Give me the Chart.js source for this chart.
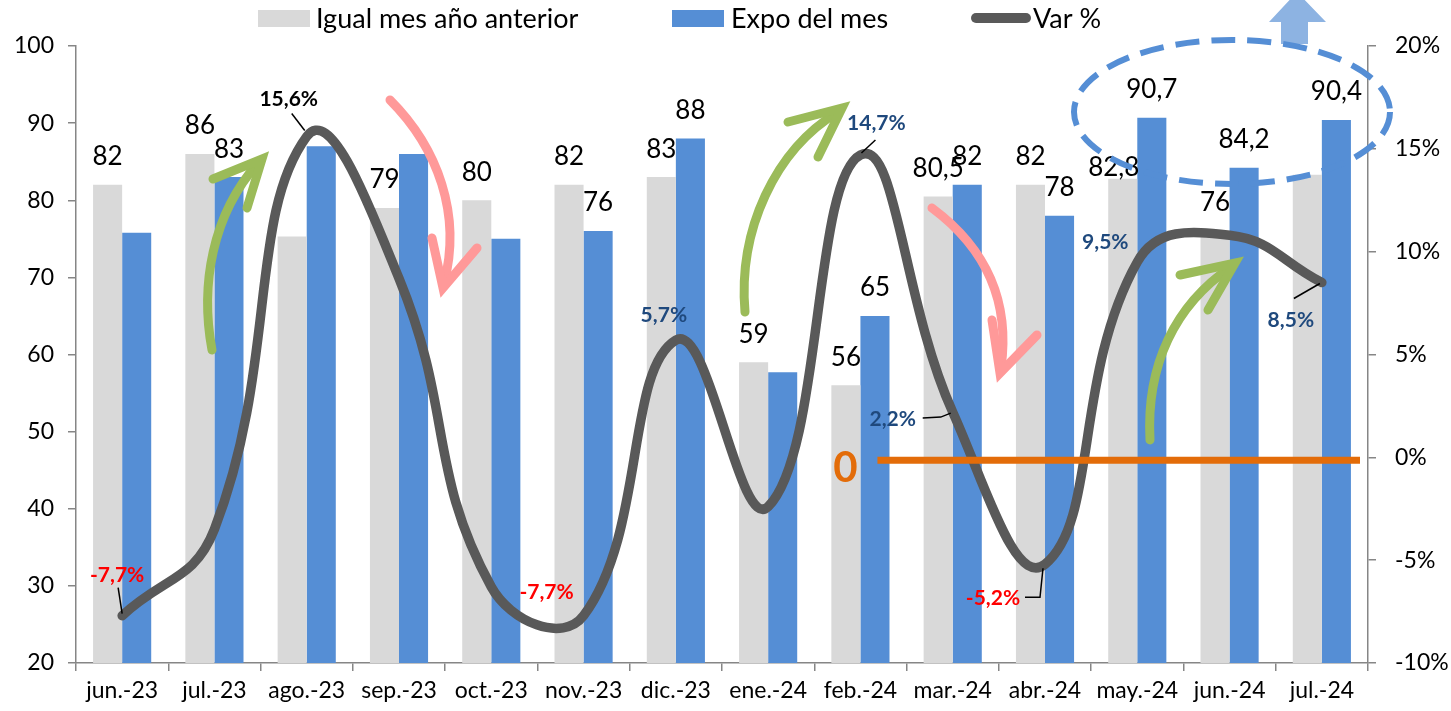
<!DOCTYPE html>
<html>
<head>
<meta charset="utf-8">
<script src="https://cdn.jsdelivr.net/npm/chart.js@4.4.1/dist/chart.umd.min.js"></script>
<style>
  html, body { margin: 0; padding: 0; background: #fff; }
  #wrap { width: 1451px; height: 711px; }
</style>
</head>
<body>
<div id="wrap"><canvas id="chart" width="1451" height="711"></canvas></div>
<script>
// data
const months = ["jun.-23", "jul.-23", "ago.-23", "sep.-23", "oct.-23", "nov.-23", "dic.-23",
                "ene.-24", "feb.-24", "mar.-24", "abr.-24", "may.-24", "jun.-24", "jul.-24"];
const prevYear  = [82, 86, 75.3, 79, 80, 82, 83, 59, 56, 80.5, 82, 82.8, 76, 83.3];
const currMonth = [75.8, 83, 87, 86, 75, 76, 88, 57.7, 65, 82, 78, 90.7, 84.2, 90.4];
const varPct    = [-7.7, -3.5, 15.6, 8.7, -6.3, -7.7, 5.7, -2.4, 14.7, 2.2, -5.2, 9.5, 10.8, 8.5];

// which points carry a value label
const prevLabelIdx = [0, 1, 3, 4, 5, 6, 7, 8, 9, 10, 11, 12];
const currLabelIdx = [1, 5, 6, 8, 9, 10, 11, 12, 13];
const varLabelIdx  = [0, 2, 5, 6, 8, 9, 10, 11, 13];

const legendNames = ["Igual mes año anterior", "Expo del mes", "Var %"];

const GREY = "#D9D9D9", BLUE = "#558ED5", LINE = "#595959";
const FONT = "Lato";

const fmt = v => Number.isInteger(v) ? String(v) : v.toFixed(1).replace(".", ",");
const fmtPct = v => fmt(v) + "%";

// label placement tweaks (offsets in px)
const prevLabelShift = { 11: [-9, 11] };
const varLabelPos = {
  0:  { d: [-5, -40], c: "#FF0000", lead: [[-4, -28], [0, -2]] },
  2:  { d: [-18, -37], c: "#000000", lead: [[-15, -23], [-2, -6]] },
  5:  { d: [-37, -23], c: "#FF0000" },
  6:  { d: [-12, -25], c: "#1F497D" },
  8:  { d: [16, -32], c: "#1F497D", lead: [[15, -15], [1, -2]] },
  9:  { d: [-60, 7], c: "#1F497D", lead: [[-30, 6], [-12, 5], [-2, 1]] },
  10: { d: [-52, 34], c: "#FF0000", lead: [[-20, 33], [-5, 33], [-2, 4]] },
  11: { d: [-32, -20], c: "#1F497D" },
  13: { d: [-31, 38], c: "#1F497D", lead: [[-28, 16], [-2, 1]] }
};

function arrow(ctx, color, p0, c1, c2, p1, barbA, tip, barbB) {
  ctx.save();
  ctx.strokeStyle = color;
  ctx.lineWidth = 9;
  ctx.lineCap = "round";
  ctx.lineJoin = "miter";
  ctx.beginPath();
  ctx.moveTo(p0[0], p0[1]);
  ctx.bezierCurveTo(c1[0], c1[1], c2[0], c2[1], p1[0], p1[1]);
  ctx.stroke();
  ctx.beginPath();
  ctx.moveTo(barbA[0], barbA[1]);
  ctx.lineTo(tip[0], tip[1]);
  ctx.lineTo(barbB[0], barbB[1]);
  ctx.stroke();
  ctx.restore();
}

const decorations = {
  id: "decorations",
  afterDatasetsDraw(chart) {
    const ctx = chart.ctx;
    const x = chart.scales.x, y1 = chart.scales.y1;
    const area = chart.chartArea;

    // zero reference line
    const zy = y1.getPixelForValue(0) + 3;
    ctx.save();
    ctx.strokeStyle = "#E36C09";
    ctx.lineWidth = 7;
    ctx.beginPath();
    ctx.moveTo(x.getPixelForValue(8) + 17, zy);
    ctx.lineTo(area.right - 8, zy);
    ctx.stroke();
    ctx.fillStyle = "#E36C09";
    ctx.font = "bold 42px " + FONT;
    ctx.textAlign = "center";
    ctx.textBaseline = "middle";
    ctx.fillText("0", x.getPixelForValue(8) - 15, zy + 8);
    ctx.restore();

    // green / pink trend arrows
    arrow(ctx, "#9BBB59", [212, 350], [200, 285], [212, 215], [258, 163], [213, 179], [262, 159], [247, 208]);
    arrow(ctx, "#9BBB59", [745, 312], [738, 230], [775, 150], [838, 112], [788, 122], [842, 108], [818, 157]);
    arrow(ctx, "#9BBB59", [1150, 440], [1146, 365], [1175, 305], [1231, 267], [1180, 275], [1235, 263], [1208, 310]);
    arrow(ctx, "#FF9999", [390, 100], [438, 148], [462, 215], [444, 283], [432, 238], [443, 288], [477, 248]);
    arrow(ctx, "#FF9999", [932, 208], [975, 240], [1012, 290], [1001, 368], [992, 320], [1000, 373], [1037, 335]);

    // value labels on bars
    ctx.save();
    ctx.fillStyle = "#000";
    ctx.font = "26px " + FONT;
    ctx.textAlign = "center";
    ctx.textBaseline = "middle";
    const m0 = chart.getDatasetMeta(0), m1 = chart.getDatasetMeta(1), m2 = chart.getDatasetMeta(2);
    prevLabelIdx.forEach(i => {
      const b = m0.data[i], s = prevLabelShift[i] || [0, 28];
      ctx.fillText(fmt(prevYear[i]), b.x + s[0], b.y - s[1]);
    });
    currLabelIdx.forEach(i => {
      const b = m1.data[i];
      ctx.fillText(fmt(currMonth[i]), b.x, b.y - 28);
    });
    ctx.restore();

    // percent labels on the line
    ctx.save();
    ctx.font = "bold 21px " + FONT;
    ctx.textAlign = "center";
    ctx.textBaseline = "middle";
    varLabelIdx.forEach(i => {
      const p = m2.data[i], o = varLabelPos[i];
      if (o.lead) {
        ctx.strokeStyle = "#000";
        ctx.lineWidth = 1.5;
        ctx.beginPath();
        o.lead.forEach((q, k) => k ? ctx.lineTo(p.x + q[0], p.y + q[1]) : ctx.moveTo(p.x + q[0], p.y + q[1]));
        ctx.stroke();
      }
      ctx.fillStyle = o.c;
      ctx.fillText(fmtPct(varPct[i]), p.x + o.d[0], p.y + o.d[1]);
    });
    ctx.restore();

    // up arrow + dashed ellipse
    ctx.save();
    ctx.fillStyle = "#8DB3E2";
    ctx.beginPath();
    ctx.moveTo(1281, 44); ctx.lineTo(1281, 22); ctx.lineTo(1269, 22);
    ctx.lineTo(1297, -8); ctx.lineTo(1326, 22); ctx.lineTo(1308, 22);
    ctx.lineTo(1308, 44); ctx.closePath();
    ctx.fill();
    ctx.strokeStyle = BLUE;
    ctx.lineWidth = 6;
    ctx.setLineDash([24, 12]);
    ctx.beginPath();
    ctx.ellipse(1232, 112, 158, 72, 0, 0, Math.PI * 2);
    ctx.stroke();
    ctx.restore();

    // legend
    ctx.save();
    ctx.font = "27px " + FONT;
    ctx.textBaseline = "middle";
    ctx.textAlign = "left";
    ctx.fillStyle = GREY; ctx.fillRect(258, 10, 52, 17);
    ctx.fillStyle = BLUE; ctx.fillRect(672, 10, 52, 17);
    ctx.strokeStyle = LINE; ctx.lineWidth = 10; ctx.lineCap = "round";
    ctx.beginPath(); ctx.moveTo(976, 18); ctx.lineTo(1026, 18); ctx.stroke();
    ctx.fillStyle = "#000";
    ctx.fillText(legendNames[0], 316, 19);
    ctx.fillText(legendNames[1], 731, 19);
    ctx.fillText(legendNames[2], 1033, 19);
    ctx.restore();
  }
};

const axisColor = "#868686";

new Chart(document.getElementById("chart"), {
  type: "bar",
  data: {
    labels: months,
    datasets: [
      { label: legendNames[0], data: prevYear, backgroundColor: GREY, yAxisID: "y", order: 2,
        categoryPercentage: 0.63, barPercentage: 1.0 },
      { label: legendNames[1], data: currMonth, backgroundColor: BLUE, yAxisID: "y", order: 2,
        categoryPercentage: 0.63, barPercentage: 1.0 },
      { type: "line", label: legendNames[2], data: varPct, yAxisID: "y1", order: 0,
        borderColor: LINE, borderWidth: 9.5, tension: 0.45, pointRadius: 0,
        borderCapStyle: "round", borderJoinStyle: "round", fill: false }
    ]
  },
  options: {
    responsive: false,
    animation: false,
    devicePixelRatio: 1,
    layout: { padding: { top: 46, left: 0, right: 0, bottom: 0 } },
    plugins: { legend: { display: false }, tooltip: { enabled: false } },
    scales: {
      x: {
        offset: true,
        grid: { display: true, drawOnChartArea: false, tickLength: 8, color: axisColor, lineWidth: 1.5 },
        border: { color: axisColor, width: 1.5 },
        ticks: { color: "#000", font: { family: FONT, size: 23 }, padding: 6, maxRotation: 0, autoSkip: false },
        afterFit(s) { s.height = 48; }
      },
      y: {
        position: "left", min: 20, max: 100,
        grid: { drawOnChartArea: false, tickLength: 8, color: axisColor, lineWidth: 1.5 },
        border: { color: axisColor, width: 1.5 },
        ticks: { stepSize: 10, color: "#000", font: { family: FONT, size: 23 }, padding: 14 },
        afterFit(s) { s.width = 76; }
      },
      y1: {
        position: "right", min: -10, max: 20,
        grid: { drawOnChartArea: false, tickLength: 8, color: axisColor, lineWidth: 1.5 },
        border: { color: axisColor, width: 1.5 },
        ticks: { stepSize: 5, color: "#000", font: { family: FONT, size: 23 }, padding: 19,
                 callback: v => v + "%" },
        afterFit(s) { s.width = 83; }
      }
    }
  },
  plugins: [decorations]
});
</script>
</body>
</html>
